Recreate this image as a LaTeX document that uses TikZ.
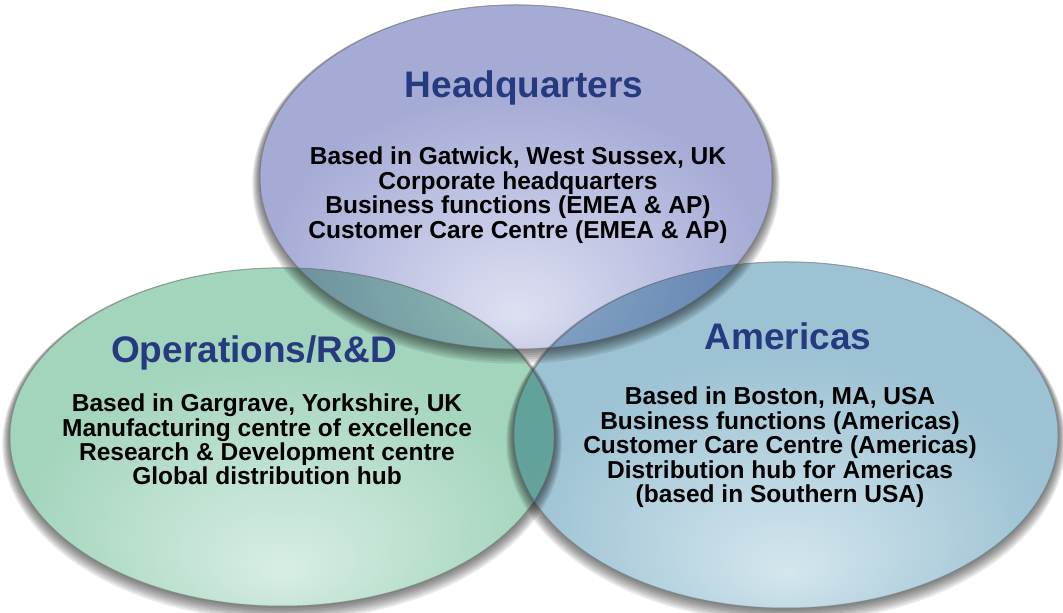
\documentclass[tikz,border=0pt]{standalone}
\usepackage{fontspec}
\setmainfont{Liberation Sans}
\definecolor{hqD}{RGB}{166,171,214}
\definecolor{hqL}{RGB}{222,224,242}
\definecolor{grD}{RGB}{163,212,188}
\definecolor{grL}{RGB}{216,238,228}
\definecolor{blD}{RGB}{156,194,211}
\definecolor{blL}{RGB}{212,230,238}
\definecolor{ttl}{RGB}{38,58,128}
\pgfdeclareradialshading{hqsh}{\pgfpoint{0bp}{-20bp}}{color(0bp)=(hqL); color(24bp)=(hqD); color(60bp)=(hqD)}
\pgfdeclareradialshading{grsh}{\pgfpoint{0bp}{-20bp}}{color(0bp)=(grL); color(24bp)=(grD); color(60bp)=(grD)}
\pgfdeclareradialshading{blsh}{\pgfpoint{0bp}{-20bp}}{color(0bp)=(blL); color(24bp)=(blD); color(60bp)=(blD)}
\newcommand\mysoftshadow[4]{%
  \foreach \k in {1,...,7}{%
    \fill[black, fill opacity=0.085, even odd rule, blend mode=multiply]
      (#1,{#2-1.0*\k}) ellipse ({#3+1.1*\k} and {#4+1.1*\k}) (#1,#2) ellipse (#3 and #4);
  }}
\begin{document}
\begin{tikzpicture}[x=1pt,y=1pt,
  ttlstyle/.style={font=\fontsize{37}{37}\selectfont\bfseries, text=ttl, inner sep=0pt, anchor=base},
  bodystyle/.style={font=\fontsize{24.5}{24.5}\selectfont\bfseries, text=black, inner sep=0pt, anchor=base},
  rim/.style={draw opacity=0.35, line width=1pt}]
\useasboundingbox (0,0) rectangle (1063,613);
\fill[white] (0,0) rectangle (1063,613);
% shadows
\mysoftshadow{282}{176}{272}{169}
\mysoftshadow{786}{178}{272}{173}
\mysoftshadow{516}{436}{256}{172}
% ellipses
\path[shading=grsh, blend mode=multiply] (282,176) ellipse (272 and 169);
\path[shading=blsh, blend mode=multiply] (786,178) ellipse (272 and 173);
\path[shading=hqsh, blend mode=multiply] (516,436) ellipse (256 and 172);
\draw[rim, grD!70!black] (282,176) ellipse (272 and 169);
\draw[rim, blD!70!black] (786,178) ellipse (272 and 173);
\draw[rim, hqD!70!black] (516,436) ellipse (256 and 172);
% texts
\node[ttlstyle] (hqt) at (524,515) {Headquarters};
\foreach \t [count=\i] in {{Based in Gatwick, West Sussex, UK},{Corporate headquarters},{Business functions (EMEA \& AP)},{Customer Care Centre (EMEA \& AP)}}
  \node[bodystyle] (hq\i) at (518,{448-24.4*(\i-1)}) {\t};
\node[ttlstyle] (opt) at (254,250) {Operations/R\&D};
\foreach \t [count=\i] in {{Based in Gargrave, Yorkshire, UK},{Manufacturing centre of excellence},{Research \& Development centre},{Global distribution hub}}
  \node[bodystyle] (op\i) at (267,{201-24.2*(\i-1)}) {\t};
\node[ttlstyle] (amt) at (788,263) {Americas};
\foreach \t [count=\i] in {{Based in Boston, MA, USA},{Business functions (Americas)},{Customer Care Centre (Americas)},{Distribution hub for Americas},{(based in Southern USA)}}
  \node[bodystyle] (am\i) at (780,{208-24.5*(\i-1)}) {\t};
\end{tikzpicture}
\end{document}
